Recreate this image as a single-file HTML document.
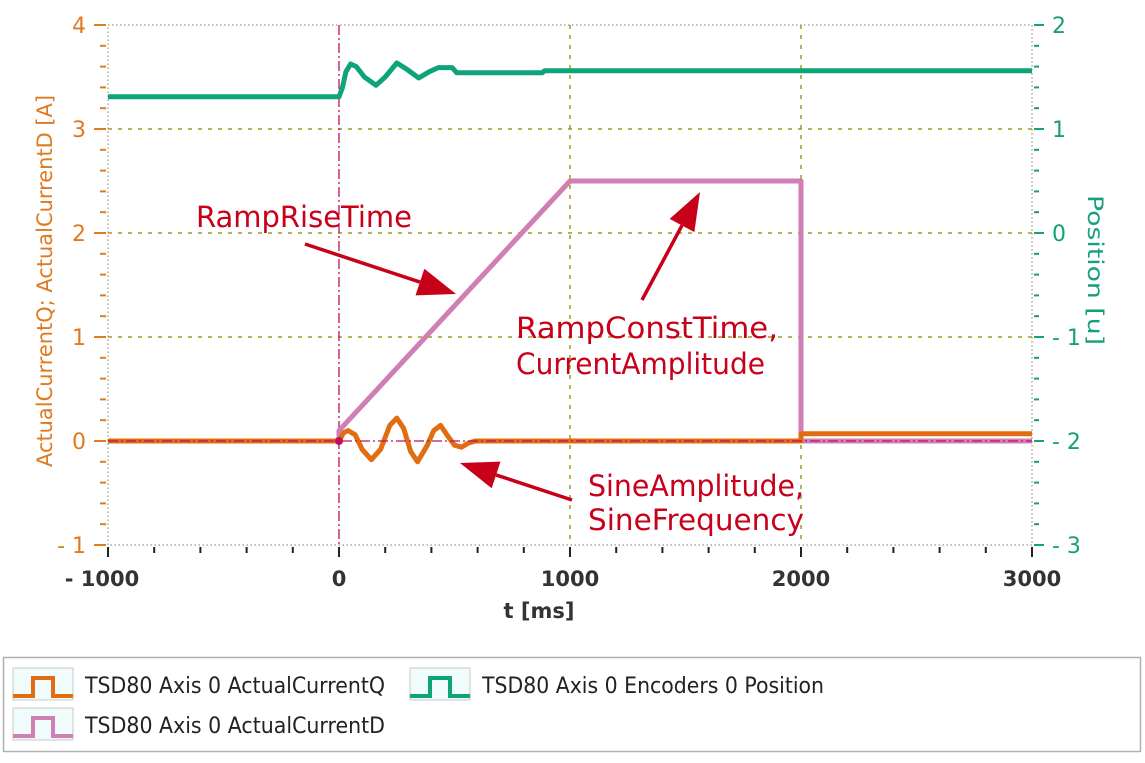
<!DOCTYPE html>
<html><head><meta charset="utf-8"><style>
body{margin:0;background:#fff;width:1145px;height:758px;overflow:hidden;font-family:"Liberation Sans","DejaVu Sans",sans-serif}
svg text{font-family:"DejaVu Sans","Liberation Sans",sans-serif}
</style></head><body>
<svg id="c" width="1145" height="758" xmlns="http://www.w3.org/2000/svg"></svg>
<script>
const xTicks=[-1000,0,1000,2000,3000];
const yLeftTicks=[-1,0,1,2,3,4];
const yRightTicks=[-3,-2,-1,0,1,2];
const posT=[-1000,0,15,30,50,75,110,160,200,250,290,345,390,430,490,510,880,890,3000];
const posV=[1.31,1.31,1.4,1.55,1.625,1.6,1.5,1.42,1.5,1.635,1.58,1.49,1.55,1.59,1.59,1.54,1.54,1.56,1.56];
const qT=[-1000,0,20,40,70,100,140,180,220,250,280,310,340,380,410,440,470,500,530,560,590,2000,2000,3000];
const qV=[0,0,0.08,0.1,0.06,-0.08,-0.18,-0.08,0.15,0.22,0.12,-0.1,-0.2,-0.05,0.1,0.15,0.05,-0.04,-0.06,-0.02,0,0,0.07,0.07];
const dT=[-1000,0,0,1000,2000,2000,3000];
const dV=[0,0,0.1,2.5,2.5,0,0];
const NS="http://www.w3.org/2000/svg";
const svg=document.getElementById('c');
const X0=108,X1=1032,YT=25,YB=545;
const xs=t=>X0+(t+1000)/4000*(X1-X0);
const yl=v=>YB-(v+1)/5*(YB-YT);
const yr=v=>YB-(v+3)/5*(YB-YT);
const COND='DejaVu Sans Condensed, DejaVu Sans, sans-serif';
function el(tag,a,txt){const e=document.createElementNS(NS,tag);for(const k in a)e.setAttribute(k,a[k]);if(txt!==undefined)e.textContent=txt;svg.appendChild(e);return e;}
const fr=el('rect',{x:X0,y:YT,width:X1-X0,height:YB-YT,fill:'none',stroke:'#aaa','stroke-dasharray':'1.5,2.5','stroke-width':1.5});

yLeftTicks.forEach(v=>{if(v>-1&&v<4&&v!==0){const g=el('line',{x1:X0,x2:X1,y1:yl(v),y2:yl(v),stroke:'#9a9a20','stroke-dasharray':'4,6','stroke-width':1.5});
}});
xTicks.forEach(t=>{if(t>0&&t<3000){const g=el('line',{x1:xs(t),x2:xs(t),y1:YT,y2:YB,stroke:'#9a9a20','stroke-dasharray':'4,6','stroke-width':1.5});
}});
let cl=el('line',{x1:xs(0),x2:xs(0),y1:YT,y2:YB,stroke:'#c0105a','stroke-dasharray':'10,3,2,3','stroke-width':1.3});

for(let t=-1000;t<=3000;t+=200){const m=t%1000===0;const k=el('line',{x1:xs(t),x2:xs(t),y1:YB+2,y2:YB+(m?12:8),stroke:'#222','stroke-width':2});
}
xTicks.forEach(t=>{const l=el('text',{x:xs(t)+(t<0?-6:0),y:YB+41,'text-anchor':'middle','font-size':21,'font-weight':'bold',fill:'#333','font-family':COND},t<0?'- '+(-t):String(t));
});
let xt=el('text',{x:539,y:618,'text-anchor':'middle','font-size':21,fill:'#333','font-weight':'bold','font-family':COND},'t [ms]');

for(let i=0;i<=25;i++){const v=-1+i*0.2;const m=i%5===0;const k=el('line',{x1:X0-(m?14:8),x2:X0-2,y1:yl(v),y2:yl(v),stroke:'#e07a20','stroke-width':2});
}
yLeftTicks.forEach(v=>{const l=el('text',{x:X0-22,y:yl(v)+8,'text-anchor':'end','font-size':22,fill:'#e07a20','font-family':COND},v<0?'- '+(-v):String(v));
});
let ylt=el('text',{transform:'translate(52,281) rotate(-90)','text-anchor':'middle','font-size':21,fill:'#e07a20','font-family':COND,textLength:372,lengthAdjust:'spacingAndGlyphs'},'ActualCurrentQ; ActualCurrentD [A]');

for(let i=0;i<=25;i++){const v=-3+i*0.2;const m=i%5===0;const k=el('line',{x1:X1+2,x2:X1+(m?12:7),y1:yr(v),y2:yr(v),stroke:'#16a07a','stroke-width':2});
}
yRightTicks.forEach(v=>{const l=el('text',{x:X1+20,y:yr(v)+8,'font-size':22,fill:'#16a07a','font-family':COND},v<0?'- '+(-v):String(v));
});
let yrt=el('text',{transform:'translate(1088,270) rotate(90)','text-anchor':'middle','font-size':21,fill:'#16a07a','font-family':COND,textLength:150,lengthAdjust:'spacingAndGlyphs'},'Position [u]');

function path(T,V,ys){return T.map((t,i)=>(i?'L':'M')+xs(t).toFixed(1)+' '+ys(V[i]).toFixed(1)).join(' ');}
let sp=el('path',{d:path(posT,posV,yr),fill:'none',stroke:'#0fa37a','stroke-width':5,'stroke-linejoin':'round'});

let sd=el('path',{d:path(dT,dV,yl),fill:'none',stroke:'#d07fb4','stroke-width':5,'stroke-linejoin':'round'});

let sq=el('path',{d:path(qT,qV,yl),fill:'none',stroke:'#e06e10','stroke-width':5,'stroke-linejoin':'round'});

let hl=el('line',{x1:X0,x2:X1,y1:yl(0),y2:yl(0),stroke:'#c0105a','stroke-dasharray':'10,3,2,3','stroke-width':1.3});

let tp=el('circle',{cx:xs(0),cy:yl(0),r:4,fill:'#c0105a'});

function arrow(x1,y1,x2,y2,name){const a=Math.atan2(y2-y1,x2-x1),L=38,W=14;
const bx=x2-L*Math.cos(a),by=y2-L*Math.sin(a);
const l=el('line',{x1,y1,x2:bx,y2:by,stroke:'#c8001a','stroke-width':3.5});

const p=el('polygon',{points:`${x2},${y2} ${bx+W*Math.sin(a)},${by-W*Math.cos(a)} ${bx-W*Math.sin(a)},${by+W*Math.cos(a)}`,fill:'#c8001a'});
}
arrow(305,244,456,294,'arrow-ramp-rise');
arrow(642,300,700,192,'arrow-ramp-const');
arrow(572,500,460,463,'arrow-sine');
function note(x,y,s,n,w){const t=el('text',{x,y,'font-size':29,fill:'#c8001a','font-family':'Liberation Sans, sans-serif',textLength:w,lengthAdjust:'spacingAndGlyphs'},s);
}
note(196,227,'RampRiseTime','annotation-ramp-rise-time',216);
note(516,338,'RampConstTime,','annotation-ramp-const-time',262);
note(516,374,'CurrentAmplitude','annotation-current-amplitude',249);
note(588,496,'SineAmplitude,','annotation-sine-amplitude',216);
note(588,530,'SineFrequency','annotation-sine-frequency',216);
let lb=el('rect',{x:3.5,y:657.5,width:1137,height:94,fill:'#fff',stroke:'#b0b0b0','stroke-width':1.5});

function leg(x,y,c,s,n,w){const g=el('rect',{x,y,width:60,height:32,fill:'#f0fcfc',stroke:'#c8c8c8'});

const p=el('path',{d:`M${x} ${y+28} H${x+20} V${y+10} H${x+40} V${y+28} H${x+60}`,fill:'none',stroke:c,'stroke-width':4});

const t=el('text',{x:x+72,y:y+25,'font-size':22,fill:'#222','font-family':COND,textLength:w,lengthAdjust:'spacingAndGlyphs'},s);
}
leg(13,668,'#e06e10','TSD80 Axis 0 ActualCurrentQ','legend-entry-current-q',300);
leg(410,668,'#0fa37a','TSD80 Axis 0 Encoders 0 Position','legend-entry-position',342);
leg(13,708,'#d07fb4','TSD80 Axis 0 ActualCurrentD','legend-entry-current-d',300);
</script>
</body></html>
